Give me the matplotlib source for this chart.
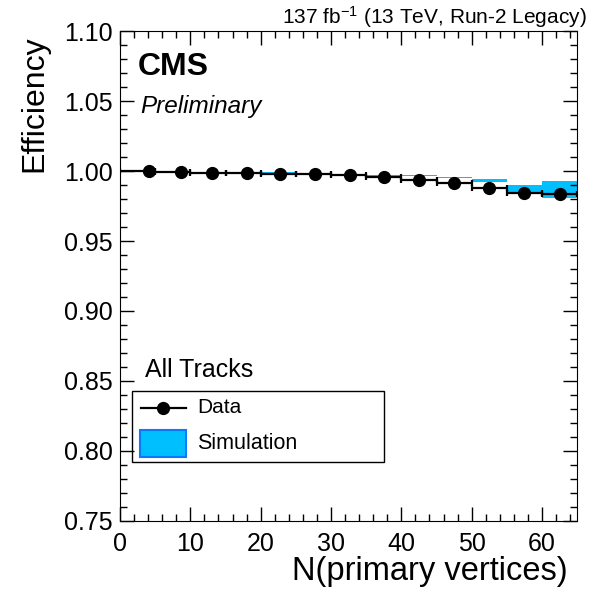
import matplotlib
matplotlib.use('Agg')
import matplotlib.pyplot as plt
from matplotlib.patches import Rectangle
from matplotlib.lines import Line2D
from matplotlib.ticker import MultipleLocator, FormatStrFormatter
import numpy as np

plt.rcParams['font.family'] = ['Liberation Sans', 'DejaVu Sans']
plt.rcParams['mathtext.default'] = 'regular'

# bins in N(primary vertices)
bin_lo = [0, 5, 10, 15, 20, 25, 30, 35, 40, 45, 50, 55, 60]
bin_hi = [5, 10, 15, 20, 25, 30, 35, 40, 45, 50, 55, 60, 65]

# data points (mean of bin, efficiency)
data_x = [4.1, 8.7, 13.1, 18.0, 22.8, 27.7, 32.7, 37.5, 42.5, 47.5, 52.5, 57.5, 62.5]
data_eff = [0.9999, 0.9995, 0.9988, 0.9984, 0.9981, 0.9979, 0.9974,
            0.9957, 0.9936, 0.9912, 0.9881, 0.9845, 0.9836]

# simulation band (central value and half width)
sim_eff = [0.9999, 0.9995, 0.9989, 0.9993, 0.9989, 0.9980, 0.9975,
           0.9967, 0.9968, 0.9955, 0.9933, 0.9873, 0.9868]
sim_err = [0.0002, 0.0002, 0.0002, 0.0004, 0.0002, 0.0002, 0.0002,
           0.0004, 0.0004, 0.0004, 0.0010, 0.0028, 0.0063]

sim_color = '#00BFFF'
sim_edge = '#0A78FF'

fig = plt.figure(figsize=(6, 6), dpi=100)
ax = fig.add_axes([0.2, 0.132, 0.762, 0.816])

# simulation boxes
for lo, hi, c, e in zip(bin_lo, bin_hi, sim_eff, sim_err):
    ax.fill_between([lo, hi], c - e, c + e, color=sim_color, lw=0)

# data
x = np.array(data_x)
xerr = [x - np.array(bin_lo), np.array(bin_hi) - x]
ax.errorbar(x, data_eff, xerr=xerr, fmt='o', color='black', ms=8.5,
            elinewidth=1.6, capsize=2.5, capthick=1.6)

ax.set_xlim(0, 65)
ax.set_ylim(0.75, 1.10)
ax.xaxis.set_major_locator(MultipleLocator(10))
ax.xaxis.set_minor_locator(MultipleLocator(2))
ax.yaxis.set_major_locator(MultipleLocator(0.05))
ax.yaxis.set_minor_locator(MultipleLocator(0.01))
ax.yaxis.set_major_formatter(FormatStrFormatter('%.2f'))
ax.tick_params(which='both', direction='in', top=True, right=True, labelsize=18, width=1)
ax.tick_params(which='major', length=10)
ax.tick_params(which='minor', length=5)
ax.tick_params(axis='x', pad=8)
ax.tick_params(axis='y', pad=5)

ax.set_xlabel('N(primary vertices)', fontsize=23.5, loc='right')
ax.xaxis.set_label_coords(0.978, -0.072)
ax.set_ylabel('Efficiency', fontsize=23, loc='top')
ax.yaxis.set_label_coords(-0.155, 0.992)

ax.text(0.039, 0.910, 'CMS', fontsize=23, fontweight='bold', transform=ax.transAxes, va='baseline')
ax.text(0.044, 0.833, 'Preliminary', fontsize=17.5, style='italic', transform=ax.transAxes, va='baseline')
fig.text(0.978, 0.96, r'137 fb$^{-1}$ (13 TeV, Run-2 Legacy)', fontsize=15, ha='right', va='baseline')

# legend
ax.text(0.055, 0.294, 'All Tracks', fontsize=18, transform=ax.transAxes, va='baseline')
ax.add_patch(Rectangle((0.026, 0.120), 0.552, 0.145, transform=ax.transAxes,
                       fill=False, ec='black', lw=1))
ax.add_line(Line2D([0.046, 0.144], [0.231, 0.231], transform=ax.transAxes,
                   color='black', lw=1.6))
ax.plot([0.095], [0.231], 'o', color='black', ms=8.5, transform=ax.transAxes)
ax.text(0.168, 0.231, 'Data', fontsize=15, transform=ax.transAxes, va='center')
ax.add_patch(Rectangle((0.0438, 0.1312), 0.100, 0.0545, transform=ax.transAxes,
                       fc=sim_color, ec=sim_edge, lw=1.5))
ax.text(0.168, 0.158, 'Simulation', fontsize=15.5, transform=ax.transAxes, va='center')

fig.savefig('out.png', dpi=100)
